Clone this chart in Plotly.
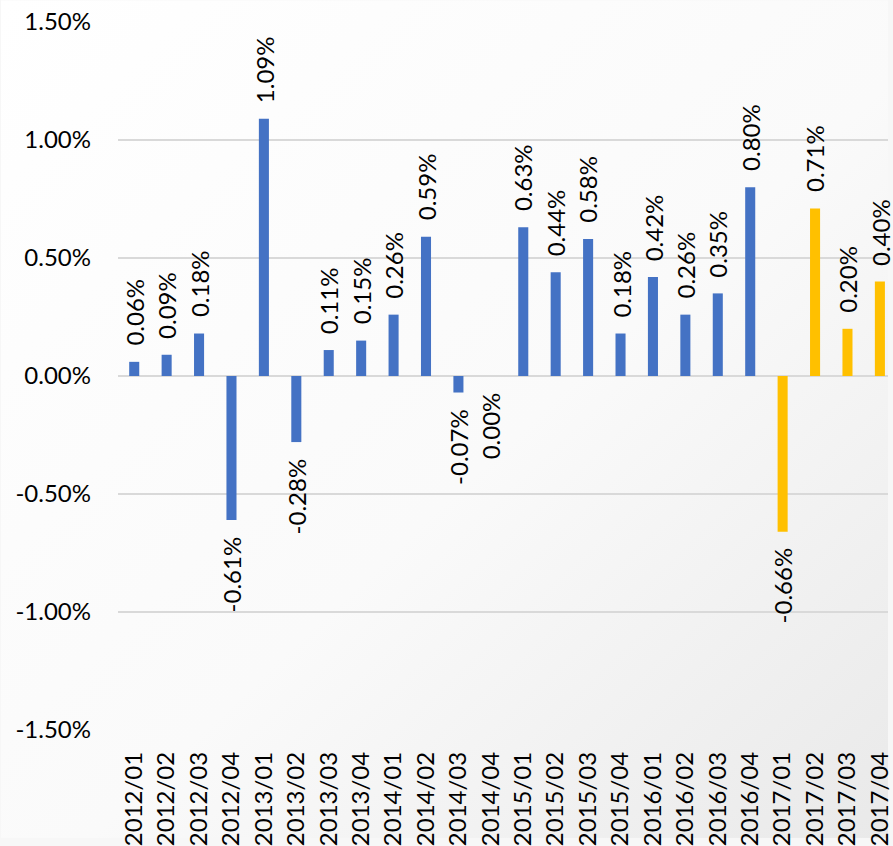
import base64
import plotly.graph_objects as go

# Quarterly change, in percent
quarters = [
    "2012/01", "2012/02", "2012/03", "2012/04",
    "2013/01", "2013/02", "2013/03", "2013/04",
    "2014/01", "2014/02", "2014/03", "2014/04",
    "2015/01", "2015/02", "2015/03", "2015/04",
    "2016/01", "2016/02", "2016/03", "2016/04",
    "2017/01", "2017/02", "2017/03", "2017/04",
]
values = [
    0.06, 0.09, 0.18, -0.61,
    1.09, -0.28, 0.11, 0.15,
    0.26, 0.59, -0.07, 0.00,
    0.63, 0.44, 0.58, 0.18,
    0.42, 0.26, 0.35, 0.80,
    -0.66, 0.71, 0.20, 0.40,
]
y_ticks = [-1.5, -1.0, -0.5, 0.0, 0.5, 1.0, 1.5]

BLUE = "#4472C4"
GOLD = "#FFC000"
colors = [GOLD if q.startswith("2017") else BLUE for q in quarters]

FONT = "Lato"
FSIZE = 24

fig = go.Figure()
fig.add_trace(go.Bar(
    x=quarters,
    y=[v / 100 for v in values],
    marker=dict(color=colors, line=dict(width=0)),
    width=0.31,
    hoverinfo="skip",
))

# Value labels, rotated, sitting just beyond each bar end
for q, v in zip(quarters, values):
    up = v > 0
    fig.add_annotation(
        x=q, y=v / 100,
        text=f"{v:.2f}%",
        textangle=-90,
        showarrow=False,
        yanchor="bottom" if up else "top",
        xanchor="center",
        yshift=14 if up else -14,
        font=dict(family=FONT, size=FSIZE, color="#000000"),
    )

# Soft light-grey backdrop, whiter at the upper left
svg = (
    '<svg xmlns="http://www.w3.org/2000/svg" width="893" height="846">'
    '<defs><linearGradient id="g" x1="0" y1="0" x2="1" y2="1">'
    '<stop offset="0" stop-color="#ffffff"/>'
    '<stop offset="0.55" stop-color="#fafafa"/>'
    '<stop offset="1" stop-color="#e9e9e9"/>'
    '</linearGradient></defs>'
    '<rect width="893" height="846" fill="url(#g)"/></svg>'
)
bg = "data:image/svg+xml;base64," + base64.b64encode(svg.encode()).decode()
fig.add_layout_image(
    source=bg, xref="paper", yref="paper", x=0, y=1,
    sizex=1, sizey=1, xanchor="left", yanchor="top",
    sizing="stretch", layer="below",
)
fig.update_layout(
    images=[dict(
        source=bg, xref="paper", yref="paper",
        x=-118 / 775, y=1 + 22 / 715,
        sizex=893 / 775, sizey=846 / 715,
        xanchor="left", yanchor="top", sizing="stretch", layer="below",
    )]
)

fig.update_layout(
    width=893, height=846,
    margin=dict(l=118, r=0, t=22, b=109, pad=0),
    paper_bgcolor="#f7f7f7",
    plot_bgcolor="rgba(0,0,0,0)",
    showlegend=False,
    bargap=0.69,
    font=dict(family=FONT, size=FSIZE, color="#000000"),
    xaxis=dict(
        type="category",
        range=[-0.5, 23.25],
        tickangle=-90,
        showgrid=False,
        showline=False,
        zeroline=False,
        ticks="",
        ticklabelstandoff=16,
        tickfont=dict(family=FONT, size=FSIZE, color="#000000"),
    ),
    yaxis=dict(
        range=[-0.015, 0.015],
        tickvals=[t / 100 for t in y_ticks],
        ticktext=[f"{t:.2f}%" for t in y_ticks],
        showgrid=True,
        gridcolor="#d9d9d9",
        gridwidth=1.5,
        zeroline=True,
        zerolinecolor="#d9d9d9",
        zerolinewidth=1.5,
        showline=False,
        ticks="",
        ticklabelstandoff=26,
        tickfont=dict(family=FONT, size=FSIZE, color="#000000"),
    ),
)

fig.write_html("out.html")
